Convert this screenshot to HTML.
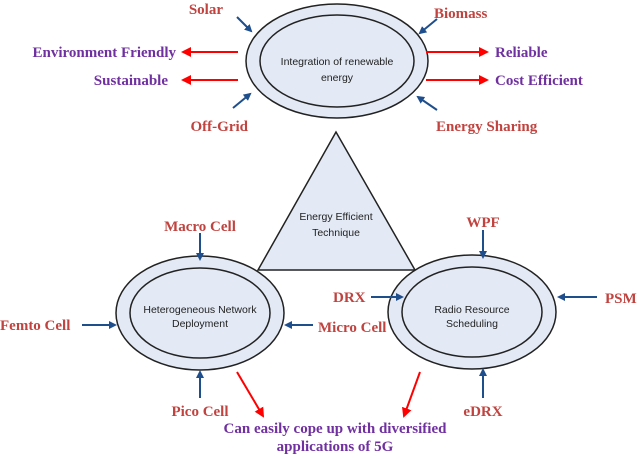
<!DOCTYPE html>
<html><head><style>
body{margin:0;background:#fff}
svg text{font-family:"Liberation Serif",serif;font-weight:bold;font-size:15px}
.r{fill:#c0433f}.p{fill:#7030a0}
.s{font-family:"Liberation Sans",sans-serif!important;font-weight:normal!important;font-size:10.5px!important;fill:#222}
</style></head><body>
<svg width="640" height="454" viewBox="0 0 640 454">
<defs>
<marker id="b" markerWidth="8" markerHeight="8" refX="6" refY="4" orient="auto" markerUnits="userSpaceOnUse"><path d="M0,0 L8,4 L0,8 Z" fill="#1f4e8c"/></marker>
<marker id="rd" markerWidth="10" markerHeight="10" refX="8" refY="5" orient="auto" markerUnits="userSpaceOnUse"><path d="M0,0 L10,5 L0,10 Z" fill="#ff0000"/></marker>
</defs>
<g stroke="#222" stroke-width="1.5" fill="#e3eaf5">
<ellipse cx="337" cy="61" rx="91" ry="57"/><ellipse cx="337" cy="61" rx="77" ry="46"/>
<polygon points="336,132 258,270 415,270"/>
<ellipse cx="200" cy="313" rx="84" ry="57"/><ellipse cx="200" cy="313" rx="70" ry="45"/>
<ellipse cx="472" cy="312" rx="84" ry="57"/><ellipse cx="472" cy="312" rx="70" ry="45"/>
</g>
<text class="s" x="337" y="65" text-anchor="middle">Integration of renewable</text>
<text class="s" x="337" y="81" text-anchor="middle">energy</text>
<text class="s" x="336" y="220" text-anchor="middle">Energy Efficient</text>
<text class="s" x="336" y="236" text-anchor="middle">Technique</text>
<text class="s" x="200" y="313" text-anchor="middle">Heterogeneous Network</text>
<text class="s" x="200" y="327" text-anchor="middle">Deployment</text>
<text class="s" x="472" y="313" text-anchor="middle">Radio Resource</text>
<text class="s" x="472" y="327" text-anchor="middle">Scheduling</text>
<g stroke="#1f4e8c" stroke-width="2" marker-end="url(#b)">
<line x1="237" y1="17" x2="251" y2="31"/><line x1="437" y1="19" x2="420" y2="33"/>
<line x1="233" y1="108" x2="250" y2="94"/><line x1="437" y1="110" x2="418" y2="97"/>
<line x1="200" y1="233" x2="200" y2="259"/><line x1="82" y1="325" x2="115" y2="325"/>
<line x1="313" y1="325" x2="286" y2="325"/><line x1="200" y1="398" x2="200" y2="372"/>
<line x1="483" y1="230" x2="483" y2="257"/><line x1="371" y1="297" x2="402" y2="297"/>
<line x1="597" y1="297" x2="559" y2="297"/><line x1="483" y1="398" x2="483" y2="370"/>
</g>
<g stroke="#ff0000" stroke-width="2" marker-end="url(#rd)">
<line x1="238" y1="52" x2="183" y2="52"/><line x1="238" y1="80" x2="183" y2="80"/>
<line x1="426" y1="52" x2="487" y2="52"/><line x1="426" y1="80" x2="487" y2="80"/>
<line x1="237" y1="372" x2="263" y2="416"/><line x1="420" y1="372" x2="404" y2="416"/>
</g>
<text class="r" x="223" y="14" text-anchor="end">Solar</text>
<text class="r" x="434" y="18">Biomass</text>
<text class="p" x="176" y="57" text-anchor="end">Environment Friendly</text>
<text class="p" x="168" y="85" text-anchor="end">Sustainable</text>
<text class="p" x="495" y="57">Reliable</text>
<text class="p" x="495" y="85">Cost Efficient</text>
<text class="r" x="248" y="131" text-anchor="end">Off-Grid</text>
<text class="r" x="436" y="131">Energy Sharing</text>
<text class="r" x="200" y="231" text-anchor="middle">Macro Cell</text>
<text class="r" x="0" y="330">Femto Cell</text>
<text class="r" x="318" y="332">Micro Cell</text>
<text class="r" x="200" y="416" text-anchor="middle">Pico Cell</text>
<text class="r" x="483" y="227" text-anchor="middle">WPF</text>
<text class="r" x="333" y="302">DRX</text>
<text class="r" x="605" y="303">PSM</text>
<text class="r" x="483" y="416" text-anchor="middle">eDRX</text>
<text class="p" x="335" y="433" text-anchor="middle">Can easily cope up with diversified</text>
<text class="p" x="335" y="451" text-anchor="middle">applications of 5G</text>
</svg>
</body></html>
